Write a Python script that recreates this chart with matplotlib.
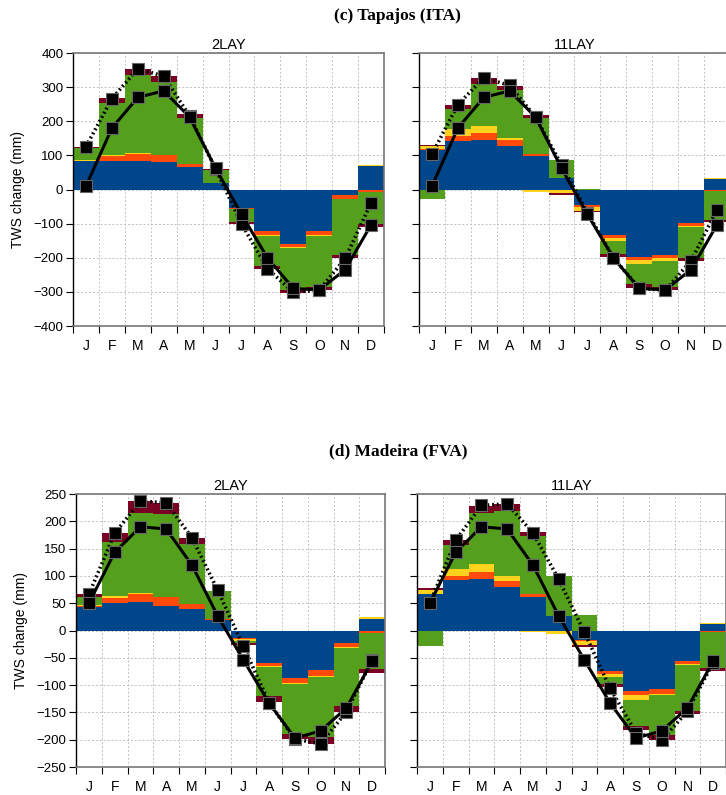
import numpy as np
import matplotlib
matplotlib.use("Agg")
import matplotlib.pyplot as plt

plt.rcParams['font.family'] = ['Liberation Sans', 'DejaVu Sans']

months = ['J', 'F', 'M', 'A', 'M', 'J', 'J', 'A', 'S', 'O', 'N', 'D']

# storage components, stacked in this order (blue, red, yellow, green, maroon)
comp_colors = ['#00468b', '#ff4a0c', '#ffd21e', '#54a01c', '#7a0024']

# (c) Tapajos, 2LAY
ita_2lay_blue = [83, 83, 83, 81, 66, 20, -53, -122, -160, -122, -17, 68]
ita_2lay_red = [2, 14, 22, 19, 8, 0, -3, -12, -8, -11, -12, -7]
ita_2lay_yellow = [2, 5, 3, 0, -2, -1, -2, -2, -3, -3, 0, 3]
ita_2lay_green = [35, 152, 227, 215, 136, 38, -37, -88, -122, -149, -163, -93]
ita_2lay_maroon = [3, 13, 19, 17, 10, 2, -5, -8, -11, -10, -8, -9]
ita_2lay_total = [126, 266, 354, 332, 215, 61, -100, -232, -301, -295, -202, -39]

# (c) Tapajos, 11LAY
ita_11lay_blue = [115, 141, 144, 129, 97, 34, -44, -133, -199, -192, -98, 31]
ita_11lay_red = [5, 17, 22, 15, 7, 0, -6, -8, -8, -8, -8, -3]
ita_11lay_yellow = [7, 20, 19, 6, -6, -11, -12, -10, -11, -9, -3, 3]
ita_11lay_green = [-29, 57, 124, 141, 107, 53, 2, -39, -59, -76, -92, -85]
ita_11lay_maroon = [3, 14, 19, 13, 8, -4, -5, -7, -11, -10, -8, -6]
ita_11lay_total = [103, 249, 327, 305, 212, 72, -68, -200, -289, -295, -209, -59]

ita_grace = [10, 180, 270, 289, 212, 62, -73, -200, -290, -294, -235, -103]

# (d) Madeira, 2LAY
fva_2lay_blue = [43, 51, 53, 45, 39, 19, -13, -59, -87, -73, -23, 22]
fva_2lay_red = [2, 9, 14, 16, 9, 2, -3, -6, -10, -10, -7, -4]
fva_2lay_yellow = [1, 4, 2, 0, 0, -1, -3, -2, -1, -2, -2, 2]
fva_2lay_green = [15, 98, 146, 152, 110, 51, -4, -53, -91, -110, -106, -66]
fva_2lay_maroon = [5, 16, 22, 21, 11, 1, -4, -11, -10, -12, -11, -7]
fva_2lay_total = [66, 178, 237, 234, 170, 74, -29, -132, -199, -207, -149, -54]

# (d) Madeira, 11LAY
fva_11lay_blue = [66, 92, 95, 80, 61, 26, -18, -74, -111, -107, -55, 12]
fva_11lay_red = [1, 8, 13, 11, 5, 1, -2, -5, -8, -9, -6, -3]
fva_11lay_yellow = [7, 13, 13, 9, -3, -6, -7, -7, -8, -3, -2, 2]
fva_11lay_green = [-28, 43, 95, 119, 108, 72, 29, -12, -48, -73, -84, -66]
fva_11lay_maroon = [4, 10, 12, 13, 6, 1, -3, -6, -8, -9, -5, -6]
fva_11lay_total = [50, 165, 229, 232, 179, 94, -3, -106, -187, -201, -148, -59]

fva_grace = [50, 143, 190, 186, 120, 27, -54, -133, -197, -184, -142, -56]


def draw_panel(ax, comps, total, grace, ylim, ystep, title, ylabels=True):
    x = np.arange(12) + 0.5
    pos = np.zeros(12)
    neg = np.zeros(12)
    for vals, c in zip(comps, comp_colors):
        v = np.array(vals, float)
        bottom = np.where(v >= 0, pos, neg)
        ax.bar(x, v, width=1.0, bottom=bottom, color=c, linewidth=0, zorder=2)
        pos += np.clip(v, 0, None)
        neg += np.clip(v, None, 0)

    ax.plot(x, total, color='black', lw=2.6, ls=(0, (0.5, 0.8)), zorder=3,
            marker='s', ms=9, mfc='black', mec='#666666', mew=0.8)
    ax.plot(x, grace, color='black', lw=2.2, ls='-', zorder=4,
            marker='s', ms=9, mfc='black', mec='#666666', mew=0.8)

    ax.set_xlim(0, 12)
    ax.set_ylim(*ylim)
    ax.set_xticks(np.arange(13))
    ax.set_xticklabels([])
    ax.set_xticks(x, minor=True)
    ax.set_xticklabels(months, minor=True, fontsize=10)
    ax.tick_params(axis='x', which='minor', length=0, pad=9)
    ax.tick_params(axis='x', which='major', length=5, direction='out', width=0.8)
    ax.set_yticks(np.arange(ylim[0], ylim[1] + 1, ystep))
    ax.tick_params(axis='y', length=5, direction='out', width=0.8, labelsize=9.5, pad=2)
    if not ylabels:
        ax.set_yticklabels([])

    ax.grid(True, which='major', color='#c0c0c0', ls=(0, (2, 2)), lw=0.7)
    ax.set_axisbelow(True)

    ax.spines['left'].set_color('black')
    ax.spines['left'].set_linewidth(1.0)
    for side in ['top', 'right', 'bottom']:
        ax.spines[side].set_color('#777777')
        ax.spines[side].set_linestyle((0, (1.5, 1)))
        ax.spines[side].set_linewidth(1.2)

    ax.set_title(title, fontsize=10.5, pad=3)


fig = plt.figure(figsize=(7.26, 7.95), dpi=100)

ax1 = fig.add_axes([0.1006, 0.5899, 0.4284, 0.3434])
ax2 = fig.add_axes([0.5771, 0.5899, 0.4284, 0.3434])
ax3 = fig.add_axes([0.1047, 0.0352, 0.4256, 0.3434])
ax4 = fig.add_axes([0.5744, 0.0352, 0.4256, 0.3434])

draw_panel(ax1, [ita_2lay_blue, ita_2lay_red, ita_2lay_yellow, ita_2lay_green, ita_2lay_maroon],
           ita_2lay_total, ita_grace, (-400, 400), 100, '2LAY')
draw_panel(ax2, [ita_11lay_blue, ita_11lay_red, ita_11lay_yellow, ita_11lay_green, ita_11lay_maroon],
           ita_11lay_total, ita_grace, (-400, 400), 100, '11LAY', ylabels=False)
draw_panel(ax3, [fva_2lay_blue, fva_2lay_red, fva_2lay_yellow, fva_2lay_green, fva_2lay_maroon],
           fva_2lay_total, fva_grace, (-250, 250), 50, '2LAY')
draw_panel(ax4, [fva_11lay_blue, fva_11lay_red, fva_11lay_yellow, fva_11lay_green, fva_11lay_maroon],
           fva_11lay_total, fva_grace, (-250, 250), 50, '11LAY', ylabels=False)

ax1.set_ylabel('TWS change (mm)', fontsize=10, labelpad=6)
ax3.set_ylabel('TWS change (mm)', fontsize=10, labelpad=6)

fig.text(0.548, 0.980, '(c) Tapajos (ITA)', ha='center', va='center',
         family=['Liberation Serif', 'DejaVu Serif'], weight='bold', fontsize=12.5)
fig.text(0.548, 0.432, '(d) Madeira (FVA)', ha='center', va='center',
         family=['Liberation Serif', 'DejaVu Serif'], weight='bold', fontsize=12.5)

fig.savefig('out.png', dpi=100)
